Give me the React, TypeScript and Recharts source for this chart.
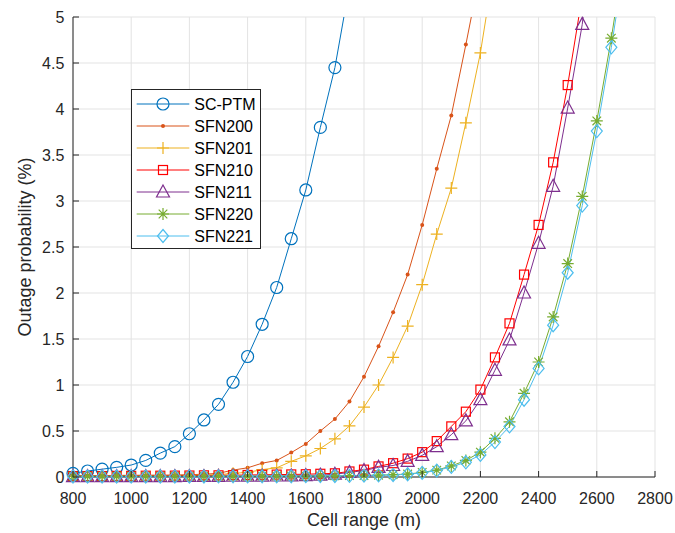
import { LineChart, Line, XAxis, YAxis, CartesianGrid, Legend } from 'recharts'

// Outage probability (%) versus cell range (m) for SC-PTM and the SFN configurations.

const cellRange = [
  800, 850, 900, 950, 1000, 1050, 1100, 1150, 1200, 1250, 1300, 1350, 1400,
  1450, 1500, 1550, 1600, 1650, 1700, 1750, 1800, 1850, 1900, 1950, 2000,
  2050, 2100, 2150, 2200, 2250, 2300, 2350, 2400, 2450, 2500, 2550, 2600,
  2650, 2700,
]

const scPtm = [
  0.04, 0.065, 0.085, 0.105, 0.13, 0.18, 0.26, 0.33, 0.47, 0.62, 0.79, 1.03,
  1.31, 1.66, 2.06, 2.59, 3.12, 3.8, 4.45, 5.34, null, null, null, null, null,
  null, null, null, null, null, null, null, null, null, null, null, null,
  null, null,
]

const sfn200 = [
  0.015, 0.015, 0.015, 0.018, 0.018, 0.02, 0.02, 0.022, 0.025, 0.03, 0.04,
  0.075, 0.1, 0.15, 0.18, 0.265, 0.36, 0.5, 0.63, 0.82, 1.09, 1.42, 1.79, 2.2,
  2.74, 3.35, 3.93, 4.7, 5.5, null, null, null, null, null, null, null, null,
  null, null,
]

const sfn201 = [
  0.01, 0.01, 0.01, 0.012, 0.012, 0.014, 0.015, 0.016, 0.018, 0.02, 0.025,
  0.04, 0.05, 0.08, 0.1, 0.17, 0.23, 0.31, 0.415, 0.555, 0.76, 1.0, 1.3, 1.64,
  2.09, 2.64, 3.14, 3.85, 4.61, 5.6, null, null, null, null, null, null, null,
  null, null,
]

const sfn210 = [
  0.01, 0.01, 0.01, 0.012, 0.012, 0.014, 0.014, 0.015, 0.016, 0.018, 0.018,
  0.02, 0.022, 0.024, 0.026, 0.028, 0.03, 0.035, 0.04, 0.06, 0.08, 0.115,
  0.15, 0.2, 0.27, 0.39, 0.55, 0.71, 0.95, 1.3, 1.67, 2.2, 2.74, 3.42, 4.26,
  5.23, null, null, null,
]

const sfn211 = [
  0.004, 0.004, 0.004, 0.004, 0.005, 0.005, 0.005, 0.005, 0.006, 0.006, 0.007,
  0.008, 0.009, 0.01, 0.011, 0.012, 0.015, 0.02, 0.03, 0.05, 0.07, 0.105,
  0.125, 0.17, 0.235, 0.33, 0.46, 0.61, 0.84, 1.16, 1.49, 2.0, 2.54, 3.16,
  4.01, 4.92, 6.4, null, null,
]

const sfn220 = [
  0.008, 0.008, 0.008, 0.008, 0.008, 0.008, 0.008, 0.008, 0.008, 0.008, 0.009,
  0.009, 0.009, 0.01, 0.01, 0.01, 0.011, 0.012, 0.013, 0.015, 0.017, 0.02,
  0.025, 0.032, 0.05, 0.075, 0.12, 0.18, 0.27, 0.42, 0.6, 0.91, 1.25, 1.74,
  2.32, 3.05, 3.87, 4.77, 5.8,
]

const sfn221 = [
  0.006, 0.006, 0.006, 0.006, 0.006, 0.006, 0.006, 0.006, 0.006, 0.006, 0.007,
  0.007, 0.007, 0.008, 0.008, 0.008, 0.009, 0.01, 0.011, 0.013, 0.015, 0.018,
  0.022, 0.03, 0.045, 0.07, 0.11, 0.16, 0.24, 0.38, 0.55, 0.84, 1.18, 1.65,
  2.22, 2.95, 3.76, 4.67, 5.7,
]

const xTicks = [800, 1000, 1200, 1400, 1600, 1800, 2000, 2200, 2400, 2600, 2800]
const yTicks = [0, 0.5, 1, 1.5, 2, 2.5, 3, 3.5, 4, 4.5, 5]

const Y_MAX = 5
const AXIS_COLOR = '#262626'
const FONT = '"Liberation Sans", Arial, Helvetica, sans-serif'

type MarkerKind = 'circle' | 'point' | 'plus' | 'square' | 'triangle' | 'star' | 'diamond'

const series: { key: string; name: string; color: string; marker: MarkerKind; values: (number | null)[] }[] = [
  { key: 'scPtm', name: 'SC-PTM', color: '#0072BD', marker: 'circle', values: scPtm },
  { key: 'sfn200', name: 'SFN200', color: '#D95319', marker: 'point', values: sfn200 },
  { key: 'sfn201', name: 'SFN201', color: '#EDB120', marker: 'plus', values: sfn201 },
  { key: 'sfn210', name: 'SFN210', color: '#FF0000', marker: 'square', values: sfn210 },
  { key: 'sfn211', name: 'SFN211', color: '#7E2F8E', marker: 'triangle', values: sfn211 },
  { key: 'sfn220', name: 'SFN220', color: '#77AC30', marker: 'star', values: sfn220 },
  { key: 'sfn221', name: 'SFN221', color: '#4DBEEE', marker: 'diamond', values: sfn221 },
]

// one row per cell range; "<key>_m" only keeps the points inside the y range (for markers)
const rows = cellRange.map((d, i) => {
  const row: Record<string, number | null> = { d }
  series.forEach(s => {
    const v = s.values[i]
    row[s.key] = v
    row[`${s.key}_m`] = v != null && v <= Y_MAX ? v : null
  })
  return row
})

function Marker({ kind, color, cx, cy }: { kind: MarkerKind; color: string; cx: number; cy: number }) {
  const sw = 1.2
  switch (kind) {
    case 'circle':
      return <circle cx={cx} cy={cy} r={6} fill="none" stroke={color} strokeWidth={sw} />
    case 'point':
      return <circle cx={cx} cy={cy} r={2} fill={color} />
    case 'plus':
      return <path d={`M${cx - 6},${cy}H${cx + 6}M${cx},${cy - 6}V${cy + 6}`} stroke={color} strokeWidth={sw} fill="none" />
    case 'square':
      return <rect x={cx - 4.5} y={cy - 4.5} width={9} height={9} fill="none" stroke={color} strokeWidth={sw} />
    case 'triangle':
      return <path d={`M${cx},${cy - 7}L${cx + 6.5},${cy + 5}L${cx - 6.5},${cy + 5}Z`} fill="none" stroke={color} strokeWidth={sw} />
    case 'star':
      return (
        <path
          d={`M${cx - 6},${cy}H${cx + 6}M${cx},${cy - 6}V${cy + 6}M${cx - 4.3},${cy - 4.3}L${cx + 4.3},${cy + 4.3}M${cx - 4.3},${cy + 4.3}L${cx + 4.3},${cy - 4.3}`}
          stroke={color}
          strokeWidth={sw}
          fill="none"
        />
      )
    case 'diamond':
      return <path d={`M${cx},${cy - 6.5}L${cx + 5.5},${cy}L${cx},${cy + 6.5}L${cx - 5.5},${cy}Z`} fill="none" stroke={color} strokeWidth={sw} />
  }
  return null
}

const makeDot = (kind: MarkerKind, color: string) => (p: any) => {
  if (p.cx == null || p.cy == null || p.value == null) return <g key={`m-${p.index}`} />
  return (
    <g key={`m-${p.index}`}>
      <Marker kind={kind} color={color} cx={p.cx} cy={p.cy} />
    </g>
  )
}

// ticks point inwards, MATLAB style
const bottomTick = (p: any) => (
  <g>
    <line x1={p.x} x2={p.x} y1={p.y} y2={p.y - 6} stroke={AXIS_COLOR} />
    <text x={p.x} y={p.y + 21} textAnchor="middle" dominantBaseline="central" fontSize={16} fontFamily={FONT} fill={AXIS_COLOR}>
      {p.payload.value}
    </text>
  </g>
)
const leftTick = (p: any) => (
  <g>
    <line x1={p.x} x2={p.x + 6} y1={p.y} y2={p.y} stroke={AXIS_COLOR} />
    <text x={p.x - 8.7} y={p.y} textAnchor="end" dominantBaseline="central" fontSize={16} fontFamily={FONT} fill={AXIS_COLOR}>
      {String(p.payload.value)}
    </text>
  </g>
)
const topTick = (p: any) => <line x1={p.x} x2={p.x} y1={p.y} y2={p.y + 6} stroke={AXIS_COLOR} />
const rightTick = (p: any) => <line x1={p.x} x2={p.x - 6} y1={p.y} y2={p.y} stroke={AXIS_COLOR} />

const xTitle = () => (
  <text x={364} y={526} textAnchor="middle" fontSize={18} fontFamily={FONT} fill={AXIS_COLOR}>
    Cell range (m)
  </text>
)
const yTitle = () => (
  <text x={25} y={247} transform="rotate(-90, 25, 247)" textAnchor="middle" dominantBaseline="central" fontSize={18} fontFamily={FONT} fill={AXIS_COLOR}>
    Outage probability (%)
  </text>
)

const renderLegend = () => (
  <div style={{ width: 130, height: 160, border: `1px solid ${AXIS_COLOR}`, background: '#fff', boxSizing: 'border-box' }}>
    <svg width={128} height={158} style={{ display: 'block' }}>
      {series.map((s, i) => {
        const y = 14 + 22 * i
        return (
          <g key={s.key}>
            <line x1={4.7} x2={57.3} y1={y} y2={y} stroke={s.color} strokeWidth={1} />
            <Marker kind={s.marker} color={s.color} cx={31} cy={y} />
            <text x={62.3} y={y} dominantBaseline="central" fontSize={16} fontFamily={FONT} fill="#000">
              {s.name}
            </text>
          </g>
        )
      })}
    </svg>
  </div>
)

export default function App() {
  return (
    <div style={{ position: 'absolute', left: 0, top: 0, width: 675, height: 533, background: '#fff', fontFamily: FONT }}>
      <LineChart width={675} height={533} data={rows} margin={{ top: 17, right: 20, left: 23, bottom: 0 }}>
        <CartesianGrid stroke="#e3e3e3" strokeWidth={1} />
        {series.flatMap(s => [
          <Line
            key={s.key}
            dataKey={s.key}
            stroke={s.color}
            strokeWidth={1}
            dot={false}
            isAnimationActive={false}
            legendType="none"
          />,
          <Line
            key={`${s.key}_m`}
            yAxisId="marks"
            dataKey={`${s.key}_m`}
            stroke="none"
            dot={makeDot(s.marker, s.color)}
            activeDot={false}
            isAnimationActive={false}
            legendType="none"
          />,
        ])}
        <XAxis
          dataKey="d"
          type="number"
          domain={[800, 2800]}
          ticks={xTicks}
          interval={0}
          height={56}
          tickSize={0}
          tickMargin={0}
          tickLine={false}
          axisLine={{ stroke: AXIS_COLOR }}
          tick={bottomTick}
          label={xTitle}
        />
        <XAxis
          xAxisId="top"
          dataKey="d"
          orientation="top"
          type="number"
          domain={[800, 2800]}
          ticks={xTicks}
          interval={0}
          height={0}
          tickSize={0}
          tickMargin={0}
          tickLine={false}
          axisLine={{ stroke: AXIS_COLOR }}
          tick={topTick}
        />
        <YAxis
          type="number"
          domain={[0, Y_MAX]}
          allowDataOverflow
          ticks={yTicks}
          interval={0}
          width={50}
          tickSize={0}
          tickMargin={0}
          tickLine={false}
          axisLine={{ stroke: AXIS_COLOR }}
          tick={leftTick}
          label={yTitle}
        />
        <YAxis
          yAxisId="right"
          orientation="right"
          type="number"
          domain={[0, Y_MAX]}
          ticks={yTicks}
          interval={0}
          width={0}
          tickSize={0}
          tickMargin={0}
          tickLine={false}
          axisLine={{ stroke: AXIS_COLOR }}
          tick={rightTick}
        />
        <YAxis yAxisId="marks" type="number" domain={[0, Y_MAX]} ticks={yTicks} hide />
        <Legend
          layout="vertical"
          align="center"
          verticalAlign="middle"
          wrapperStyle={{ left: 131, top: 89, width: 130, height: 160 }}
          content={renderLegend}
        />
      </LineChart>
    </div>
  )
}
